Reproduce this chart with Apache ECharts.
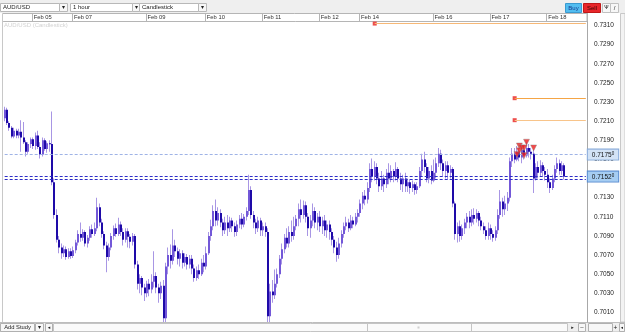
<!DOCTYPE html>
<html>
<head>
<meta charset="utf-8">
<script src="https://cdn.jsdelivr.net/npm/echarts@6/dist/echarts.min.js"></script>
<style>
  html, body { margin: 0; padding: 0; background: #fff; }
  #chart { width: 625px; height: 332px; }
</style>
</head>
<body>
<div id="chart"></div>
<script>
// AUD/USD hourly candles, prices in pips (price x 10000): [open, close, low, high]
const candles = [
  [7213,7222,7210,7225],[7222,7208,7206,7224],[7208,7203,7200,7210],[7203,7194,7192,7205],
  [7194,7200,7192,7203],[7200,7195,7192,7202],[7195,7199,7192,7202],[7199,7193,7178,7211],
  [7193,7188,7186,7209],[7188,7178,7173,7190],[7178,7186,7176,7188],[7186,7191,7182,7193],
  [7191,7184,7181,7193],[7184,7195,7180,7198],[7195,7183,7181,7200],[7183,7175,7171,7188],
  [7175,7190,7173,7193],[7190,7181,7179,7192],[7181,7187,7177,7189],[7187,7186,7178,7190],
  [7186,7146,7143,7220],[7146,7112,7108,7150],[7112,7086,7083,7118],[7086,7078,7072,7090],
  [7078,7072,7066,7082],[7072,7076,7068,7080],[7076,7068,7065,7079],[7068,7074,7066,7077],
  [7074,7069,7066,7077],[7069,7075,7067,7079],[7075,7083,7072,7086],[7083,7092,7080,7096],
  [7092,7088,7084,7104],[7088,7094,7085,7097],[7094,7082,7079,7096],[7082,7088,7078,7091],
  [7088,7097,7085,7100],[7097,7092,7088,7102],[7092,7098,7090,7104],[7098,7120,7095,7130],
  [7120,7104,7100,7124],[7104,7092,7088,7108],[7092,7080,7076,7095],[7080,7068,7052,7084],
  [7068,7078,7064,7082],[7078,7090,7075,7093],[7090,7098,7086,7101],[7098,7092,7089,7103],
  [7092,7102,7090,7109],[7102,7094,7090,7105],[7094,7086,7080,7098],[7086,7095,7083,7098],
  [7095,7089,7078,7098],[7089,7084,7077,7092],[7084,7090,7080,7093],[7090,7060,7056,7092],
  [7060,7040,7034,7064],[7040,7046,7030,7050],[7046,7036,7028,7048],[7036,7030,7022,7040],
  [7030,7040,7026,7043],[7040,7034,7027,7045],[7034,7042,7030,7050],[7042,7048,7036,7074],
  [7048,7036,7030,7052],[7036,7030,7020,7040],[7030,7038,7024,7042],[7038,7004,6995,7044],
  [7004,7058,7000,7062],[7058,7070,7050,7078],[7070,7064,7056,7081],[7064,7080,7060,7097],
  [7080,7074,7068,7086],[7074,7066,7060,7078],[7066,7072,7058,7076],[7072,7062,7056,7075],
  [7062,7068,7058,7072],[7068,7060,7055,7071],[7060,7066,7056,7070],[7066,7056,7050,7070],
  [7056,7046,7042,7060],[7046,7054,7043,7058],[7054,7050,7045,7060],[7050,7062,7048,7066],
  [7062,7058,7052,7070],[7058,7072,7055,7079],[7072,7090,7070,7094],[7090,7100,7085,7107],
  [7100,7116,7096,7122],[7116,7106,7100,7128],[7106,7114,7101,7120],[7114,7104,7099,7118],
  [7104,7096,7090,7108],[7096,7104,7092,7110],[7104,7098,7090,7112],[7098,7106,7094,7110],
  [7106,7100,7094,7109],[7100,7094,7089,7104],[7094,7102,7090,7106],[7102,7108,7098,7112],
  [7108,7102,7097,7114],[7102,7110,7099,7113],[7110,7116,7106,7120],[7116,7138,7112,7154],
  [7138,7112,7108,7142],[7112,7104,7098,7116],[7104,7098,7092,7108],[7098,7106,7094,7110],
  [7106,7096,7090,7109],[7096,7100,7090,7104],[7100,7094,7089,7104],[7094,7006,6995,7098],
  [7006,7032,7000,7040],[7032,7028,7020,7044],[7028,7040,7024,7055],[7040,7050,7036,7056],
  [7050,7066,7046,7070],[7066,7076,7060,7082],[7076,7088,7072,7092],[7088,7082,7078,7098],
  [7082,7094,7078,7100],[7094,7090,7084,7106],[7090,7100,7086,7110],[7100,7108,7096,7112],
  [7108,7118,7100,7124],[7118,7112,7104,7128],[7112,7122,7108,7127],[7122,7110,7104,7126],
  [7110,7098,7090,7114],[7098,7106,7088,7112],[7106,7116,7100,7124],[7116,7104,7098,7120],
  [7104,7110,7096,7114],[7110,7100,7094,7116],[7100,7106,7092,7110],[7106,7096,7090,7112],
  [7096,7102,7088,7106],[7102,7094,7086,7106],[7094,7086,7080,7098],[7086,7078,7072,7090],
  [7078,7070,7063,7084],[7070,7082,7066,7088],[7082,7092,7078,7096],[7092,7100,7088,7104],
  [7100,7104,7096,7110],[7104,7098,7094,7108],[7098,7106,7096,7112],[7106,7102,7098,7110],
  [7102,7110,7100,7114],[7110,7114,7104,7118],[7114,7124,7110,7128],[7124,7132,7118,7136],
  [7132,7128,7122,7138],[7128,7140,7124,7146],[7140,7160,7136,7166],[7160,7152,7146,7171],
  [7152,7162,7148,7168],[7162,7150,7144,7166],[7150,7142,7136,7156],[7142,7150,7138,7158],
  [7150,7144,7136,7154],[7144,7156,7140,7160],[7156,7150,7144,7166],[7150,7158,7146,7164],
  [7158,7152,7146,7160],[7152,7160,7148,7167],[7160,7150,7146,7162],[7150,7144,7138,7156],
  [7144,7150,7136,7154],[7150,7142,7136,7156],[7142,7146,7136,7150],[7146,7140,7134,7149],
  [7140,7144,7136,7148],[7144,7138,7133,7146],[7138,7142,7134,7146],[7142,7158,7140,7162],
  [7158,7170,7152,7176],[7170,7162,7156,7178],[7162,7150,7146,7166],[7150,7158,7145,7162],
  [7158,7148,7144,7164],[7148,7156,7146,7170],[7156,7166,7150,7172],[7166,7176,7162,7182],
  [7176,7166,7159,7180],[7166,7158,7152,7170],[7158,7164,7150,7168],[7164,7156,7149,7168],
  [7156,7160,7150,7164],[7160,7124,7120,7162],[7124,7092,7086,7126],[7092,7100,7083,7104],
  [7100,7090,7084,7106],[7090,7098,7086,7102],[7098,7104,7092,7108],[7104,7110,7098,7114],
  [7110,7104,7098,7116],[7104,7112,7100,7118],[7112,7108,7102,7119],[7108,7114,7104,7118],
  [7114,7106,7100,7116],[7106,7100,7096,7110],[7100,7096,7092,7104],[7096,7090,7086,7100],
  [7090,7098,7086,7104],[7098,7092,7086,7102],[7092,7088,7084,7096],[7088,7096,7085,7100],
  [7096,7112,7092,7118],[7112,7126,7108,7138],[7126,7118,7110,7130],[7118,7124,7112,7132],
  [7124,7130,7116,7136],[7130,7168,7126,7172],[7168,7176,7162,7182],[7176,7170,7166,7182],
  [7170,7178,7168,7184],[7178,7172,7168,7182],[7172,7180,7166,7184],[7180,7174,7170,7185],
  [7174,7182,7172,7188],[7182,7178,7172,7186],[7178,7176,7170,7182],[7176,7150,7135,7180],
  [7150,7162,7148,7166],[7162,7156,7150,7168],[7156,7164,7152,7169],[7164,7158,7152,7167],
  [7158,7154,7148,7162],[7154,7146,7140,7160],[7146,7140,7135,7150],[7140,7150,7138,7154],
  [7150,7160,7146,7164],[7160,7166,7156,7172],[7166,7158,7154,7170],[7158,7164,7154,7168],
  [7164,7152,7149,7166]
];

// day separators: [slot index, label]
const dateLabels = [
  [12, "Feb 05"], [29, "Feb 07"], [60, "Feb 09"], [85, "Feb 10"], [109, "Feb 11"],
  [133, "Feb 12"], [150, "Feb 14"], [181, "Feb 16"], [205, "Feb 17"], [229, "Feb 18"]
];

const priceTicks = [0.7010, 0.7030, 0.7050, 0.7070, 0.7090, 0.7110, 0.7130, 0.7150,
  0.7170, 0.7190, 0.7210, 0.7230, 0.7250, 0.7270, 0.7290, 0.7310];

const askLevel = 0.7175;
const bidLevel = 0.7152;
const bidLevel2 = 0.71495;

// pending orders: [start slot, price, line colour]
const orderLevels = [
  [156, 0.7312, "#f6b877"],
  [215, 0.7234, "#f5a545"],
  [215, 0.7211, "#f8c48a"]
];

// sell signals: [slot, pips]
const signals = [
  [216, 7175], [217, 7184], [217, 7179], [218, 7182],
  [219, 7174], [219, 7182], [220, 7188], [223, 7182]
];

const SLOTS = 246;
const FONT = '"Liberation Sans", Arial, sans-serif';
const UP = "#7358d8", DOWN = "#1e0aa8", WICK = "#a896e4";

const slotNames = Array.from({ length: SLOTS }, (_, i) => String(i));
const dateMap = new Map(dateLabels);
const candleData = candles.map((d, i) => [i, d[0] / 1e4, d[1] / 1e4, d[2] / 1e4, d[3] / 1e4]);

function renderCandle(params, api) {
  const i = api.value(0);
  const o = api.value(1), c = api.value(2), l = api.value(3), h = api.value(4);
  const pH = api.coord([i, h]), pL = api.coord([i, l]);
  const pO = api.coord([i, o]), pC = api.coord([i, c]);
  const x = Math.round(pH[0]);
  const y1 = Math.min(pO[1], pC[1]), y2 = Math.max(pO[1], pC[1]);
  return {
    type: "group",
    children: [
      { type: "rect", shape: { x: x - 1, y: pH[1], width: 1, height: pL[1] - pH[1] }, style: { fill: WICK } },
      { type: "rect", shape: { x: x - 1, y: y1, width: 2, height: Math.max(1, y2 - y1) }, style: { fill: c >= o ? UP : DOWN } }
    ]
  };
}

function priceLabel(v, bg, border) {
  const s = v.toFixed(5);
  return {
    show: true, position: "end", distance: 2,
    formatter: s.slice(0, 6) + "{s|" + s.slice(6) + "}",
    fontFamily: FONT, fontSize: 6.5, color: "#111",
    backgroundColor: bg, borderColor: border, borderWidth: 1,
    padding: [2, 4, 1, 4],
    rich: { s: { fontSize: 4.5, verticalAlign: "top", color: "#111", fontFamily: FONT } }
  };
}

// full-width price line as a coord pair (keeps the exact value)
function priceLine(v, lineStyle, label) {
  return [
    { coord: [0, v], lineStyle: lineStyle, label: label },
    { coord: [SLOTS - 1, v] }
  ];
}

const levelLines = [
  priceLine(askLevel, { color: "#9fb3e6", type: [3, 2], width: 1 }, priceLabel(askLevel, "#d3e3f6", "#86a9d8")),
  priceLine(bidLevel2, { color: "#2b2bc6", type: [3, 2], width: 1 }, { show: false }),
  priceLine(bidLevel, { color: "#2b2bc6", type: [3, 2], width: 1 }, priceLabel(bidLevel, "#a6cdf2", "#5a8cd0"))
].concat(orderLevels.map(([start, v, color]) => [
  { coord: [start, v], lineStyle: { color: color, type: "solid", width: 1 }, label: { show: false } },
  { coord: [SLOTS - 1, v] }
]));

// platform chrome drawn around the plot
function box(x, y, w, h, fill, stroke) {
  return { type: "rect", silent: true, shape: { x: x, y: y, width: w, height: h },
    style: { fill: fill, stroke: stroke || null, lineWidth: 1 } };
}
function txt(x, y, s, opt) {
  return { type: "text", silent: true, x: x, y: y,
    style: Object.assign({ text: s, fontFamily: FONT, fontSize: 6, fill: "#222", align: "left", verticalAlign: "middle" }, opt || {}) };
}
function hline(x1, x2, y, color) {
  return { type: "line", silent: true, shape: { x1: x1, y1: y, x2: x2, y2: y }, style: { stroke: color, lineWidth: 1 } };
}
function vline(x, y1, y2, color) {
  return { type: "line", silent: true, shape: { x1: x, y1: y1, x2: x, y2: y2 }, style: { stroke: color, lineWidth: 1 } };
}

const dropdowns = [[0.5, 59, "AUD/USD"], [70.5, 62, "1 hour"], [139.5, 59, "Candlestick"]];
const chrome = [box(0, 0, 625, 13, "#efefef")];
dropdowns.forEach(([x, w, label]) => {
  chrome.push(box(x, 3.5, w, 8, "#fff", "#b8b8b8"));
  chrome.push(txt(x + 2.5, 7.8, label));
  chrome.push(box(x + w, 3.5, 8, 8, "#f7f7f7", "#b8b8b8"));
  chrome.push(txt(x + w + 4, 7.8, "\u25BE", { align: "center", fontSize: 6, fontFamily: "DejaVu Sans" }));
});
chrome.push(
  box(565.5, 3.5, 16, 9, "#52bdf0", "#3a9ad0"), txt(573.5, 8, "Buy", { align: "center", fill: "#173a8c" }),
  box(583.5, 3.5, 17, 9, "#e8262a", "#c01818"), txt(592, 8, "Sell", { align: "center", fill: "#3a0505" }),
  box(602.5, 3.5, 8, 9, "#f7f7f7", "#c0c0c0"), txt(606.5, 8, "\u03A8", { align: "center", fontSize: 5.5, fontFamily: "DejaVu Sans" }),
  box(610.5, 3.5, 8, 9, "#f7f7f7", "#c0c0c0"), txt(614.5, 8, "/", { align: "center", fontSize: 6 }),
  hline(2.5, 587, 13.5, "#b5b5b5"),
  vline(2.5, 13.5, 322, "#c8c8c8"),
  vline(587, 13.5, 21, "#b5b5b5"),
  box(620.5, 13.5, 4.5, 308.5, "#f3f3f3", "#c8c8c8"),
  txt(4, 25, "AUD/USD (Candlestick)", { fill: "#d2d2d2", fontSize: 6 }),
  box(0, 322.5, 625, 9.5, "#efefef", "#bdbdbd"),
  box(0.5, 323.5, 34, 8, "#f7f7f7", "#b0b0b0"), txt(17.5, 327.8, "Add Study", { align: "center", fontSize: 5.8 }),
  box(35.5, 323.5, 8, 8, "#f7f7f7", "#b0b0b0"), txt(39.5, 327.8, "\u25BE", { align: "center", fontFamily: "DejaVu Sans" }),
  box(45.5, 323.5, 7, 8, "#f7f7f7", "#b0b0b0"), txt(49, 327.8, "\u25C2", { align: "center", fontFamily: "DejaVu Sans", fontSize: 5 }),
  box(53.5, 323.5, 514, 8, "#fafafa", "#c4c4c4"),
  vline(367.5, 323.5, 331.5, "#c4c4c4"), vline(471.5, 323.5, 331.5, "#c4c4c4"),
  box(417.5, 326.5, 2, 2, "#cfcfcf"),
  txt(572.5, 327.8, "\u25B8", { align: "center", fontFamily: "DejaVu Sans", fontSize: 5 }),
  box(578.5, 323.5, 7, 8, "#f7f7f7", "#b0b0b0"), txt(582, 327.5, "\u2013", { align: "center" }),
  box(588.5, 323.5, 24, 8, "#f7f7f7", "#b0b0b0"),
  txt(615.5, 327.8, "+", { align: "center", fontSize: 6.5 }),
  box(619.5, 323.5, 5, 8, "#f7f7f7", "#b0b0b0"), txt(622, 327.8, "\u25C2", { align: "center", fontFamily: "DejaVu Sans", fontSize: 4.5 })
);

const chart = echarts.init(document.getElementById("chart"));
chart.setOption({
  animation: false,
  backgroundColor: "#fff",
  grid: { left: 3.5, right: 38, top: 21, bottom: 10 },
  graphic: chrome,
  xAxis: {
    type: "category",
    position: "top",
    data: slotNames,
    boundaryGap: true,
    axisLine: { show: true, lineStyle: { color: "#b5b5b5", width: 1 } },
    axisTick: { show: true, length: 8, interval: (i) => dateMap.has(i), lineStyle: { color: "#b5b5b5" } },
    axisLabel: {
      interval: (i) => dateMap.has(i),
      formatter: (v, i) => dateMap.get(i) || "",
      align: "left", verticalAlign: "middle", margin: 4,
      fontFamily: FONT, fontSize: 5.8, color: "#333", padding: [0, 0, 0, 0.5]
    },
    splitLine: { show: false }
  },
  yAxis: {
    type: "value",
    position: "right",
    min: 0.7,
    max: 0.73147,
    axisLine: { show: true, lineStyle: { color: "#a8a8a8", width: 1 } },
    axisTick: { show: false },
    splitLine: { show: false },
    axisLabel: {
      customValues: priceTicks,
      formatter: (v) => v.toFixed(4),
      margin: 7, align: "left",
      fontFamily: FONT, fontSize: 6.5, color: "#222"
    }
  },
  series: [
    {
      name: "AUD/USD",
      type: "custom",
      renderItem: renderCandle,
      data: candleData,
      encode: { x: 0, y: [1, 2, 3, 4] },
      clip: true
    },
    {
      name: "levels",
      type: "scatter",
      data: orderLevels.map(([start, v]) => [start, v]),
      symbol: "rect",
      symbolSize: 4,
      itemStyle: { color: "#e8231f" },
      z: 4,
      markLine: { silent: true, symbol: ["none", "none"], animation: false, precision: 5, data: levelLines }
    },
    {
      name: "signals",
      type: "scatter",
      data: signals.map(([i, p]) => [i, p / 1e4]),
      symbol: "triangle",
      symbolRotate: 180,
      symbolSize: 6,
      itemStyle: { color: "#f01c1c", borderColor: "#8a8a8a", borderWidth: 0.5 },
      z: 5
    }
  ]
});
</script>
</body>
</html>
